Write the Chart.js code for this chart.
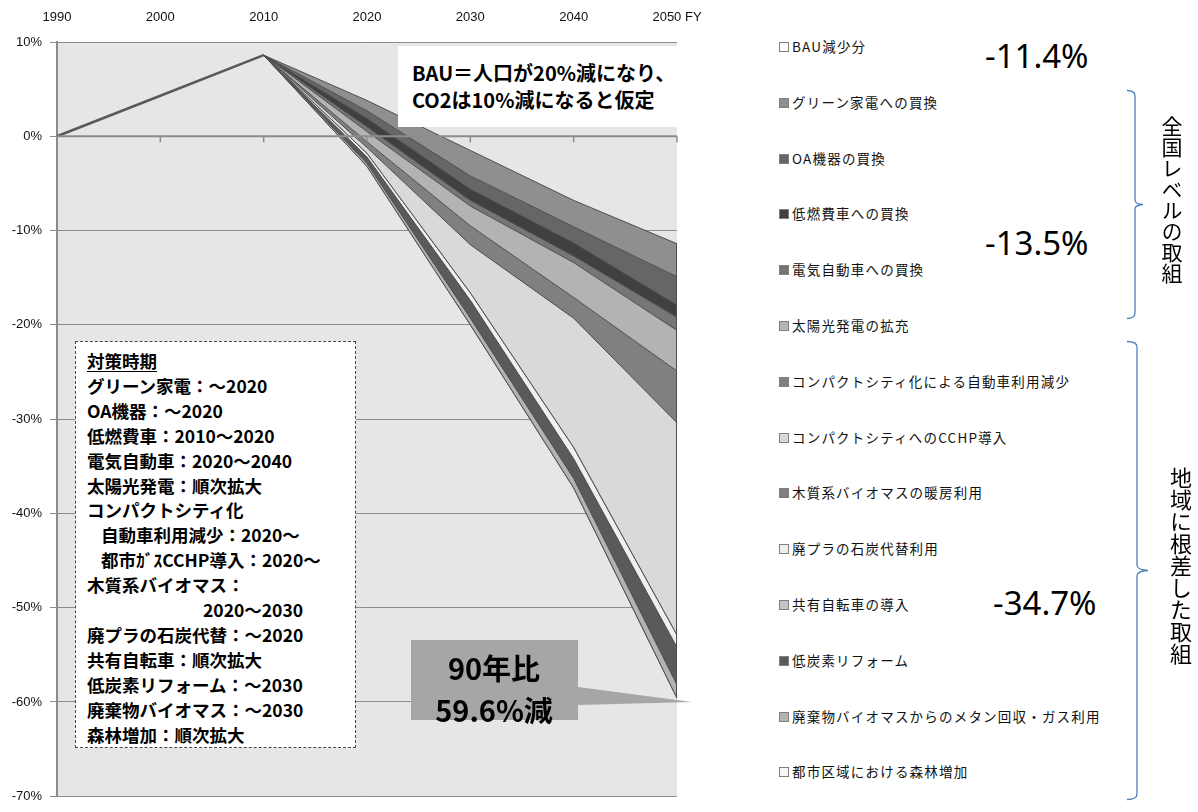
<!DOCTYPE html>
<html lang="ja">
<head>
<meta charset="utf-8">
<script src="https://cdn.jsdelivr.net/npm/chart.js@4.4.1/dist/chart.umd.min.js"></script>
<style>
  body { margin: 0; background: #fff; font-family: "Noto Sans CJK JP", sans-serif; }
  #page { position: relative; width: 1198px; height: 812px; overflow: hidden; }
  #chart { position: absolute; left: 0; top: 0; }
  .bau-note { position: absolute; left: 398px; top: 46px; width: 279px; height: 81px; background: #fff;
    box-sizing: border-box; padding: 13px 0 0 14px; font-weight: bold; font-size: 20px; line-height: 27px; color: #000; white-space: nowrap; }
  .period-box { position: absolute; left: 75px; top: 341px; width: 281px; height: 407px; box-sizing: border-box;
    border: 1.5px dashed #444; background: #fff; padding: 7px 0 0 11px; font-weight: bold; font-size: 17.5px;
    line-height: 24.9px; color: #000; white-space: nowrap; }
  .period-box u { text-underline-offset: 3px; }
  .legend-box { position: absolute; left: 779px; width: 8px; height: 8px; border: 1px solid #7f7f7f; }
  .legend-text { position: absolute; left: 792px; height: 20px; line-height: 20px; font-size: 13.5px; letter-spacing: 1.2px;
    color: #111; white-space: nowrap; }
  .pct { position: absolute; font-family: "Noto Sans", sans-serif; font-size: 33px; line-height: 40px; color: #000; white-space: nowrap; }
  .vtext { position: absolute; writing-mode: vertical-rl; color: #000; white-space: nowrap; }
</style>
</head>
<body>
<div id="page">
  <canvas id="chart" width="720" height="812"></canvas>
  <div class="bau-note">BAU＝人口が20%減になり、<br>CO2は10%減になると仮定</div>
  <div class="period-box" id="periodBox"></div>
  <div id="legendArea"></div>
  <svg width="1198" height="812" style="position:absolute;left:0;top:0;pointer-events:none">
    <path d="M1127,90.5 Q1135,90.5 1135,96 L1135,200 Q1135,204 1143,204.5 Q1135,205 1135,209 L1135,313 Q1135,318.5 1127,318.5"
          fill="none" stroke="#4f81bd" stroke-width="1.3"/>
    <path d="M1127,341.5 Q1137,341.5 1137,347 L1137,565 Q1137,570 1148,570.5 Q1137,571 1137,576 L1137,794 Q1137,799.5 1127,799.5"
          fill="none" stroke="#4f81bd" stroke-width="1.3"/>
  </svg>
  <div class="vtext" style="left:1161px;top:116px;font-size:21px;line-height:22px">全国レベルの取組</div>
  <div class="vtext" style="left:1170px;top:467px;font-size:22px;line-height:22px">地域に根差した取組</div>
</div>
<script>
// ---- data (levels in % vs FY1990) ----
const years = ['1990', '2000', '2010', '2020', '2030', '2040', '2050'];

const levelBau         = [0, 4.3, 8.6, 3.8, -1.5, -6.8, -11.4];
const levelGreen       = [null, null, 8.6, 2.7, -4.2, -9.6, -14.9];
const levelOA          = [null, null, 8.6, 1.9, -5.6, -11.3, -17.9];
const levelFuel        = [null, null, 8.6, 1.0, -6.8, -12.7, -19.2];
const levelEV          = [null, null, 8.6, 0.5, -7.4, -13.4, -20.6];
const levelSolar       = [null, null, 8.6, -0.6, -9.5, -17.1, -24.9];
const levelCompactCar  = [null, null, 8.6, -1.2, -11.5, -19.3, -30.4];
const levelCCHP        = [null, null, 8.6, -1.8, -16.6, -33.0, -52.9];
const levelWood        = [null, null, 8.6, -1.8, -16.6, -33.0, -52.9];
const levelPlastic     = [null, null, 8.6, -2.2, -17.4, -34.2, -54.2];
const levelBike        = [null, null, 8.6, -2.2, -17.4, -34.2, -54.2];
const levelReform      = [null, null, 8.6, -2.9, -19.3, -36.3, -58.2];
const levelWaste       = [null, null, 8.6, -3.2, -20.0, -37.3, -59.6];
const levelForest      = [null, null, 8.6, -3.2, -20.0, -37.3, -59.6];

const seriesNames = [
  'BAU減少分', 'グリーン家電への買換', 'OA機器の買換', '低燃費車への買換', '電気自動車への買換', '太陽光発電の拡充',
  'コンパクトシティ化による自動車利用減少', 'コンパクトシティへのCCHP導入', '木質系バイオマスの暖房利用',
  '廃プラの石炭代替利用', '共有自転車の導入', '低炭素リフォーム', '廃棄物バイオマスからのメタン回収・ガス利用',
  '都市区域における森林増加'
];
const seriesLevels = [levelBau, levelGreen, levelOA, levelFuel, levelEV, levelSolar, levelCompactCar, levelCCHP,
  levelWood, levelPlastic, levelBike, levelReform, levelWaste, levelForest];
const seriesColors = ['#ffffff', '#8f8f8f', '#666666', '#404040', '#767676', '#b3b3b3', '#808080', '#d9d9d9',
  '#808080', '#f0f0f0', '#c4c4c4', '#5a5a5a', '#b3b3b3', '#f7f7f7'];

const groupTotals = ['-11.4%', '-13.5%', '-34.7%'];
const periodLines = [
  '<u>対策時期</u>', 'グリーン家電：～2020', 'OA機器：～2020', '低燃費車：2010～2020', '電気自動車：2020～2040',
  '太陽光発電：順次拡大', 'コンパクトシティ化', '<span style="padding-left:14px">自動車利用減少：2020～</span>',
  '<span style="padding-left:14px">都市ｶﾞｽCCHP導入：2020～</span>', '木質系バイオマス：',
  '<span style="padding-left:116px">2020～2030</span>', '廃プラの石炭代替：～2020', '共有自転車：順次拡大',
  '低炭素リフォーム：～2030', '廃棄物バイオマス：～2030', '森林増加：順次拡大'
];

// ---- side texts ----
document.getElementById('periodBox').innerHTML = periodLines.join('<br>');

let legendHtml = '';
seriesNames.forEach((name, i) => {
  const cy = 46 + i * 55.8;
  legendHtml += '<div class="legend-box" style="top:' + (cy - 4) + 'px;background:' + seriesColors[i] + '"></div>';
  legendHtml += '<div class="legend-text" style="top:' + (cy - 10) + 'px">' + name + '</div>';
});
legendHtml += '<div class="pct" style="left:985px;top:36px">' + groupTotals[0] + '</div>';
legendHtml += '<div class="pct" style="left:985px;top:223px">' + groupTotals[1] + '</div>';
legendHtml += '<div class="pct" style="left:993px;top:583px">' + groupTotals[2] + '</div>';
document.getElementById('legendArea').innerHTML = legendHtml;

// ---- chart ----
const datasets = seriesLevels.map((lv, i) => {
  if (i === 0) {
    return {
      label: seriesNames[i], data: lv, fill: false, borderColor: '#4d4d4d', pointRadius: 0,
      segment: { borderWidth: c => (c.p1DataIndex <= 2 ? 2.5 : 1), borderColor: c => (c.p1DataIndex <= 2 ? '#595959' : '#4d4d4d') }
    };
  }
  return {
    label: seriesNames[i], data: lv, fill: '-1', backgroundColor: seriesColors[i],
    borderColor: '#4d4d4d', borderWidth: 1, pointRadius: 0
  };
});

const plotBg = {
  id: 'plotBg',
  beforeDraw(chart) {
    const a = chart.chartArea, ctx = chart.ctx;
    ctx.save();
    ctx.fillStyle = '#e6e6e6';
    ctx.fillRect(a.left, a.top, a.right - a.left, a.bottom - a.top);
    ctx.restore();
  }
};

const zeroAxis = {
  id: 'zeroAxis',
  afterDatasetsDraw(chart) {
    const ctx = chart.ctx, xs = chart.scales.x, ys = chart.scales.y, a = chart.chartArea;
    const y0 = ys.getPixelForValue(0);
    ctx.save();
    // closing edge of the areas at 2050
    ctx.strokeStyle = '#4d4d4d';
    ctx.lineWidth = 1;
    const xr = xs.getPixelForValue(years.length - 1);
    ctx.beginPath();
    ctx.moveTo(xr - 0.5, ys.getPixelForValue(levelBau[6]));
    ctx.lineTo(xr - 0.5, ys.getPixelForValue(levelForest[6]));
    ctx.stroke();
    // 0% category axis with tick marks
    ctx.strokeStyle = '#8c8c8c';
    ctx.lineWidth = 2;
    ctx.beginPath();
    ctx.moveTo(a.left, y0);
    ctx.lineTo(a.right, y0);
    ctx.stroke();
    ctx.lineWidth = 1.5;
    years.forEach((_, i) => {
      const x = xs.getPixelForValue(i);
      ctx.beginPath();
      ctx.moveTo(x, y0);
      ctx.lineTo(x, y0 + 6);
      ctx.stroke();
    });
    ctx.restore();
  }
};

const callout = {
  id: 'callout',
  afterDraw(chart) {
    const ctx = chart.ctx, xs = chart.scales.x, ys = chart.scales.y;
    const tipX = xs.getPixelForValue(years.length - 1) + 15;
    const tipY = ys.getPixelForValue(-60);
    ctx.save();
    ctx.fillStyle = '#a6a6a6';
    ctx.beginPath();
    ctx.moveTo(411, 640);
    ctx.lineTo(578, 640);
    ctx.lineTo(578, 687);
    ctx.lineTo(tipX, tipY);
    ctx.lineTo(578, 705);
    ctx.lineTo(578, 720);
    ctx.lineTo(411, 720);
    ctx.closePath();
    ctx.fill();
    ctx.fillStyle = '#000';
    ctx.font = 'bold 29px "Noto Sans CJK JP"';
    ctx.textAlign = 'center';
    ctx.textBaseline = 'middle';
    ctx.fillText('90年比', 494, 669);
    ctx.fillText('59.6%減', 494, 711);
    ctx.restore();
  }
};

new Chart(document.getElementById('chart'), {
  type: 'line',
  data: { labels: years, datasets },
  options: {
    responsive: false,
    animation: false,
    layout: { padding: { left: 0, top: 0, right: 43, bottom: 12 } },
    elements: { line: { tension: 0 } },
    plugins: { legend: { display: false }, tooltip: { enabled: false } },
    scales: {
      x: {
        type: 'category',
        position: 'top',
        offset: false,
        afterFit(s) { s.height = 42; },
        grid: { display: false, drawTicks: false },
        border: { display: false },
        ticks: {
          padding: 17, maxRotation: 0, autoSkip: false, color: '#111',
          font: { family: 'Liberation Sans', size: 13 },
          callback(v, i) { return i === years.length - 1 ? years[i] + ' FY' : years[i]; }
        }
      },
      y: {
        min: -70, max: 10,
        afterFit(s) { s.width = 57; },
        grid: { color: '#8c8c8c', lineWidth: 1, tickLength: 7 },
        border: { color: '#8c8c8c', width: 2 },
        ticks: {
          stepSize: 10, padding: 8, color: '#111',
          font: { family: 'Liberation Sans', size: 13 },
          callback: v => v + '%'
        }
      }
    }
  },
  plugins: [plotBg, zeroAxis, callout]
});
</script>
</body>
</html>
